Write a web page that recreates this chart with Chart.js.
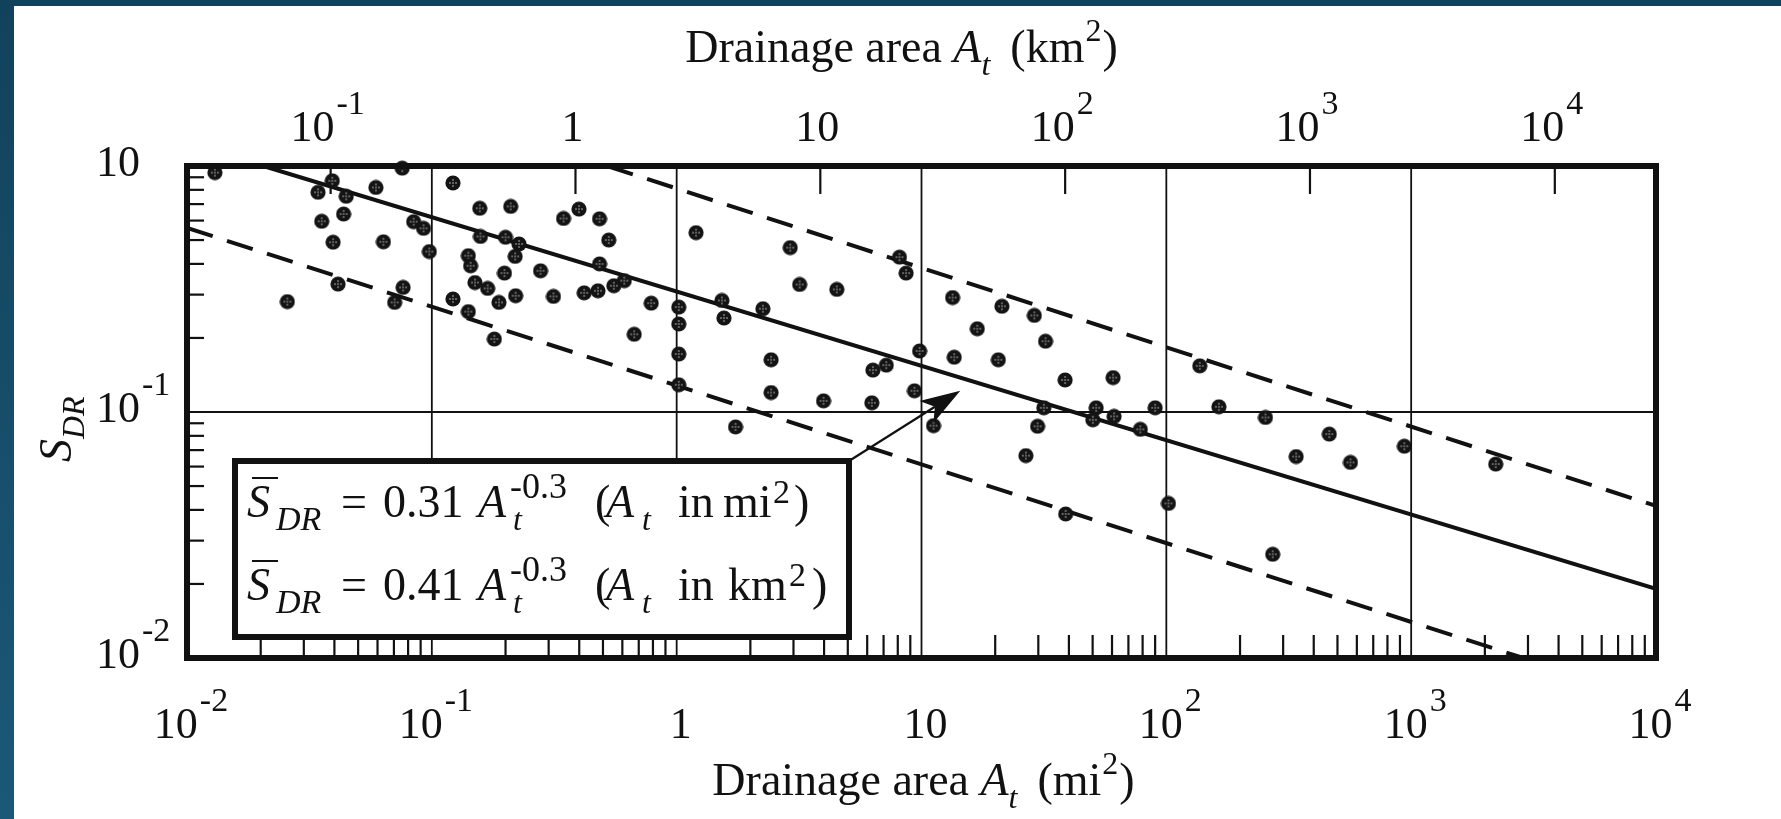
<!DOCTYPE html>
<html>
<head>
<meta charset="utf-8">
<script src="https://cdn.jsdelivr.net/npm/chart.js@4.4.1/dist/chart.umd.min.js"></script>
<style>
html,body{margin:0;padding:0;background:#fff;width:1781px;height:819px;overflow:hidden;}
#topband{position:absolute;left:0;top:0;width:1781px;height:6px;background:#12425b;}
#leftband{position:absolute;left:0;top:0;width:14px;height:819px;background:linear-gradient(#12425b,#1b5878);}
#c{position:absolute;left:14px;top:6px;width:1767px;height:813px;}
</style>
</head>
<body>
<div id="topband"></div><div id="leftband"></div>
<canvas id="c" width="1767" height="813"></canvas>
<script>
// ---------------- data ----------------
// drainage area in mi^2
const areaMi = [
  0.0130, 0.0757, 0.0392, 0.0343, 0.0447, 0.0591, 0.0355, 0.0436, 0.0395, 0.0634,
  0.0843, 0.0925, 0.0977, 0.0414, 0.0257, 0.0763, 0.0705,
  0.122, 0.157, 0.210, 0.345, 0.399, 0.484, 0.528, 0.158, 0.200, 0.227,
  0.219, 0.141, 0.144, 0.198, 0.278, 0.484, 0.150, 0.169, 0.188, 0.220,
  0.314, 0.419, 0.477, 0.554, 0.611, 0.787, 0.671, 0.122, 0.141, 0.180,
  1.02, 1.02, 1.02, 1.02,
  1.20, 2.91, 3.18, 4.51, 8.13, 8.65, 1.53, 1.56, 2.25, 2.43, 2.43, 1.74,
  3.98, 6.27, 6.33, 7.18, 9.82, 9.36, 11.2,
  13.4, 21.3, 28.9, 16.9, 32.1, 13.6, 20.6, 38.6, 60.6, 31.6, 51.7, 50.1,
  61.2, 78.3, 90.0, 29.8, 26.7, 38.8, 102, 137,
  164, 254, 463, 339, 565, 938, 2215, 272
];
// sediment delivery ratio
const sdr = [
  0.94, 0.98, 0.871, 0.782, 0.753, 0.818, 0.596, 0.638, 0.490, 0.492,
  0.594, 0.558, 0.449, 0.331, 0.281, 0.321, 0.279,
  0.853, 0.673, 0.685, 0.612, 0.668, 0.610, 0.500, 0.517, 0.513, 0.482,
  0.429, 0.432, 0.393, 0.367, 0.375, 0.400, 0.336, 0.318, 0.279, 0.297,
  0.295, 0.305, 0.311, 0.326, 0.342, 0.277, 0.207, 0.288, 0.256, 0.198,
  0.267, 0.228, 0.172, 0.129,
  0.536, 0.466, 0.330, 0.315, 0.426, 0.367, 0.284, 0.241, 0.263, 0.163, 0.120, 0.087,
  0.111, 0.109, 0.148, 0.155, 0.177, 0.122, 0.088,
  0.292, 0.269, 0.247, 0.218, 0.194, 0.167, 0.163, 0.135, 0.138, 0.104, 0.104, 0.093,
  0.096, 0.085, 0.104, 0.0875, 0.0665, 0.0385, 0.0425, 0.154,
  0.105, 0.095, 0.0813, 0.0659, 0.0624, 0.0726, 0.0614, 0.0264
];
// fitted mean line and envelope lines (end points)
const meanLineArea  = [0.0205, 10000];
const meanLineSdr   = [1, 0.0191];
const upperEnvArea  = [0.52, 10000];
const upperEnvSdr   = [1, 0.0415];
const lowerEnvArea  = [0.01, 2870];
const lowerEnvSdr   = [0.56, 0.01];
// arrow target of the equation box
const arrowTarget = [14.4, 0.122];

// tick values and labels [base, exponent]
const xTickValues  = [0.01, 0.1, 1, 10, 100, 1000, 10000];
const xTickLabels  = [['10','-2'],['10','-1'],['1',''],['10',''],['10','2'],['10','3'],['10','4']];
const kmTickValues = [0.1, 1, 10, 100, 1000, 10000];
const kmTickLabels = [['10','-1'],['1',''],['10',''],['10','2'],['10','3'],['10','4']];
const yTickValues  = [0.01, 0.1, 1];
const yTickLabels  = [['10','-2'],['10','-1'],['10','']];
const gridX = [0.1, 1, 10, 100, 1000];
const gridY = [0.1];
const KM2_PER_MI2 = 2.59;

// ---------------- helpers ----------------
const FAM = '"Liberation Serif", "Times New Roman", Times, serif';
function fnt(size, it){ return (it ? 'italic ' : '') + size + 'px ' + FAM; }

function makeDot(){
  const c = document.createElement('canvas');
  c.width = 16; c.height = 16;
  const g = c.getContext('2d');
  g.fillStyle = '#141414';
  g.beginPath(); g.arc(8, 8, 7.6, 0, Math.PI*2); g.fill();
  g.fillStyle = '#8c8c8c';
  [[8,5],[5,8],[11,8],[8,11],[8,8]].forEach(p=>{
    g.fillRect(p[0]-0.8, p[1]-0.8, 1.6, 1.6);
  });
  return c;
}

function segsWidth(ctx, segs){
  let cx = 0;
  for (const s of segs){
    ctx.font = fnt(s.size, s.it);
    cx += (s.dx || 0);
    const w = ctx.measureText(s.t).width;
    if (!s.keep) cx += w;
  }
  return cx;
}
function drawSegs(ctx, segs, x, y){
  let cx = x;
  for (const s of segs){
    ctx.font = fnt(s.size, s.it);
    const px = (s.at !== undefined) ? x + s.at : cx + (s.dx || 0);
    const w = ctx.measureText(s.t).width;
    ctx.fillText(s.t, px, y + (s.dy || 0));
    if (s.bar){
      ctx.save(); ctx.lineWidth = 2; ctx.beginPath();
      ctx.moveTo(px + 5, y - 39); ctx.lineTo(px + w + 8, y - 39); ctx.stroke(); ctx.restore();
    }
    if (!s.keep) cx = px + w;
  }
}
const TICK_MAIN = 44, TICK_SUP = 34, SUP_RAISE = 27;
function powWidth(ctx, lab){
  ctx.font = fnt(TICK_MAIN); const wb = ctx.measureText(lab[0]).width;
  ctx.font = fnt(TICK_SUP); const we = lab[1] ? ctx.measureText(lab[1]).width + 2 : 0;
  return [wb, we];
}
function drawPow(ctx, lab, x0, baseline){
  const [wb] = powWidth(ctx, lab);
  ctx.font = fnt(TICK_MAIN); ctx.fillText(lab[0], x0, baseline);
  if (lab[1]){ ctx.font = fnt(TICK_SUP); ctx.fillText(lab[1], x0 + wb + 2, baseline - SUP_RAISE); }
}

// ---------------- custom axes / annotations plugin ----------------
const paper = {
  id: 'paper',
  beforeDatasetsDraw(chart){
    const ctx = chart.ctx, ca = chart.chartArea;
    const xs = chart.scales.x, ys = chart.scales.y;
    ctx.save();
    ctx.strokeStyle = '#111';
    // grid lines
    ctx.lineWidth = 1.8;
    gridX.forEach(v=>{
      const px = xs.getPixelForValue(v);
      ctx.beginPath(); ctx.moveTo(px, ca.top); ctx.lineTo(px, ca.bottom); ctx.stroke();
    });
    gridY.forEach(v=>{
      const py = ys.getPixelForValue(v);
      ctx.beginPath(); ctx.moveTo(ca.left, py); ctx.lineTo(ca.right, py); ctx.stroke();
    });
    // bottom minor ticks
    ctx.lineWidth = 2.2;
    for (let d = -2; d <= 3; d++){
      for (let m = 2; m <= 9; m++){
        const px = xs.getPixelForValue(m * Math.pow(10, d));
        ctx.beginPath(); ctx.moveTo(px, ca.bottom); ctx.lineTo(px, ca.bottom - 23); ctx.stroke();
      }
    }
    // left minor ticks
    for (let d = -2; d <= -1; d++){
      for (let m = 2; m <= 9; m++){
        const py = ys.getPixelForValue(m * Math.pow(10, d));
        ctx.beginPath(); ctx.moveTo(ca.left, py); ctx.lineTo(ca.left + 17, py); ctx.stroke();
      }
    }
    // top (km^2) ticks
    kmTickValues.forEach(v=>{
      const px = xs.getPixelForValue(v / KM2_PER_MI2);
      ctx.beginPath(); ctx.moveTo(px, ca.top); ctx.lineTo(px, ca.top + 28); ctx.stroke();
    });
    ctx.restore();
  },
  afterDatasetsDraw(chart){
    const ctx = chart.ctx, ca = chart.chartArea;
    const xs = chart.scales.x, ys = chart.scales.y;
    ctx.save();
    ctx.fillStyle = '#111'; ctx.strokeStyle = '#111';
    ctx.textAlign = 'left'; ctx.textBaseline = 'alphabetic';
    // frame
    ctx.lineWidth = 6;
    ctx.strokeRect(ca.left, ca.top, ca.right - ca.left, ca.bottom - ca.top);

    // equation box
    const bx = ca.left + 48, by = ca.top + 295, bw = 614, bh = 176;
    ctx.fillStyle = '#fff';
    ctx.fillRect(bx, by, bw, bh);
    ctx.lineWidth = 6; ctx.strokeRect(bx, by, bw, bh);
    ctx.fillStyle = '#111';
    const eq = (coef, unit, unitAt, supAt, closeAt) => [
      {t:'S', size:46, it:true, at:12, bar:true},
      {t:'DR', size:34, it:true, at:41, dy:13},
      {t:'=', size:46, at:106},
      {t:coef, size:46, at:148},
      {t:'A', size:46, it:true, at:243},
      {t:'t', size:32, it:true, at:278, dy:13},
      {t:'-0.3', size:36, at:275, dy:-19},
      {t:'(', size:46, at:360},
      {t:'A', size:46, it:true, at:371},
      {t:'t', size:32, it:true, at:407, dy:13},
      {t:'in', size:46, at:443},
      {t:unit, size:46, at:unitAt},
      {t:'2', size:34, at:supAt, dy:-14},
      {t:')', size:46, at:closeAt}
    ];
    drawSegs(ctx, eq('0.31', 'mi', 488, 538, 559), bx, by + 56);
    drawSegs(ctx, eq('0.41', 'km', 493, 554, 577), bx, by + 139);

    // arrow from box corner to the fitted line
    const tx = xs.getPixelForValue(arrowTarget[0]), ty = ys.getPixelForValue(arrowTarget[1]);
    const sx = bx + bw, sy = by;
    const L = Math.hypot(tx - sx, ty - sy), ux = (tx - sx) / L, uy = (ty - sy) / L;
    ctx.lineWidth = 2.2;
    ctx.beginPath(); ctx.moveTo(sx, sy); ctx.lineTo(tx - ux * 30, ty - uy * 30); ctx.stroke();
    ctx.beginPath();
    ctx.moveTo(tx, ty);
    ctx.lineTo(tx - ux * 40 - uy * 13, ty - uy * 40 + ux * 13);
    ctx.lineTo(tx - ux * 30, ty - uy * 30);
    ctx.lineTo(tx - ux * 40 + uy * 13, ty - uy * 40 - ux * 13);
    ctx.closePath(); ctx.fill();

    // bottom tick labels (mi^2)
    xTickValues.forEach((v, i)=>{
      const lab = xTickLabels[i];
      const [wb, we] = powWidth(ctx, lab);
      const px = xs.getPixelForValue(v);
      drawPow(ctx, lab, px + 4 - (wb + we) / 2, ca.bottom + 80);
    });
    // top tick labels (km^2)
    kmTickValues.forEach((v, i)=>{
      const lab = kmTickLabels[i];
      const [wb, we] = powWidth(ctx, lab);
      const px = xs.getPixelForValue(v / KM2_PER_MI2);
      drawPow(ctx, lab, px - 3 - (wb + we) / 2, ca.top - 25);
    });
    // left tick labels
    yTickValues.forEach((v, i)=>{
      const lab = yTickLabels[i];
      const [wb] = powWidth(ctx, lab);
      const py = ys.getPixelForValue(v);
      drawPow(ctx, lab, ca.left - 47 - wb, py + 10);
    });

    // axis titles
    const cxm = (ca.left + ca.right) / 2;
    const titleSegs = (unit) => [
      {t:'Drainage area ', size:46},
      {t:'A', size:46, it:true},
      {t:'t', size:32, it:true, dy:13},
      {t:'(' + unit, size:46, dx:20},
      {t:'2', size:32, dy:-21, dx:1},
      {t:')', size:46, dx:1}
    ];
    const top = titleSegs('km');
    drawSegs(ctx, top, cxm - 20 - segsWidth(ctx, top) / 2, ca.top - 104);
    const bot = titleSegs('mi');
    drawSegs(ctx, bot, cxm + 2 - segsWidth(ctx, bot) / 2, ca.bottom + 137);

    // y title (rotated)
    ctx.save();
    ctx.translate(ca.left - 116, ca.top + 296);
    ctx.rotate(-Math.PI / 2);
    drawSegs(ctx, [{t:'S', size:46, it:true}, {t:'DR', size:32, it:true, dy:13}], 0, 0);
    ctx.restore();

    ctx.restore();
  }
};

// ---------------- chart ----------------
const dot = makeDot();
const toPts = (xa, ya) => xa.map((a, i) => ({x: a, y: ya[i]}));

new Chart(document.getElementById('c'), {
  type: 'scatter',
  data: {
    datasets: [
      { label: 'Observed', data: toPts(areaMi, sdr), pointStyle: dot, pointRadius: 8, clip: false },
      { label: 'Mean', data: toPts(meanLineArea, meanLineSdr), showLine: true,
        borderColor: '#111', borderWidth: 4, pointRadius: 0 },
      { label: 'Upper', data: toPts(upperEnvArea, upperEnvSdr), showLine: true,
        borderColor: '#111', borderWidth: 4, borderDash: [27, 15], pointRadius: 0 },
      { label: 'Lower', data: toPts(lowerEnvArea, lowerEnvSdr), showLine: true,
        borderColor: '#111', borderWidth: 4, borderDash: [27, 15], pointRadius: 0 }
    ]
  },
  options: {
    responsive: false,
    animation: false,
    devicePixelRatio: 1,
    events: [],
    layout: { padding: { left: 173, right: 125, top: 160, bottom: 161 } },
    plugins: { legend: { display: false }, tooltip: { enabled: false } },
    scales: {
      x: { type: 'logarithmic', min: 0.01, max: 10000, display: false },
      y: { type: 'logarithmic', min: 0.01, max: 1, display: false }
    }
  },
  plugins: [paper]
});
</script>
</body>
</html>
